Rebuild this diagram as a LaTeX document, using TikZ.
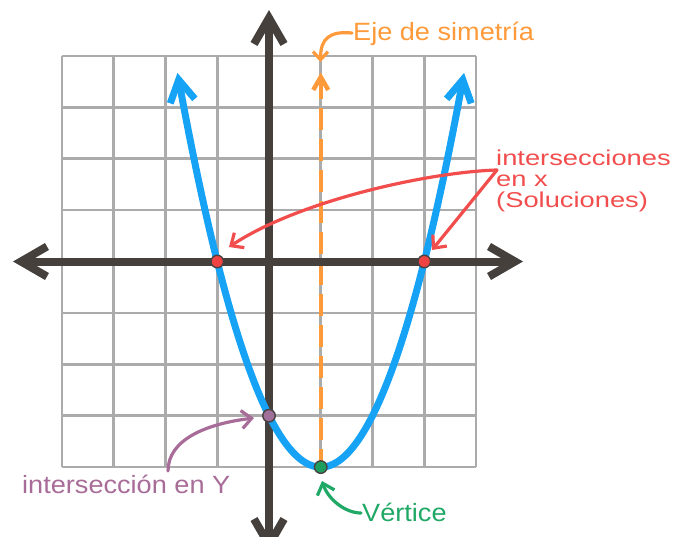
\documentclass[tikz,border=0pt]{standalone}
\usepackage{fontspec}
\setmainfont{Liberation Sans}
\usepackage{graphicx}
\usetikzlibrary{arrows.meta,calc}
\definecolor{gridgray}{HTML}{ABABAB}
\definecolor{axisdark}{HTML}{45403C}
\definecolor{parabblue}{HTML}{16A2F5}
\definecolor{symorange}{HTML}{FF9A3A}
\definecolor{solred}{HTML}{F24D4D}
\definecolor{yintpurple}{HTML}{A86C98}
\definecolor{vertgreen}{HTML}{20A866}
\definecolor{dotred}{HTML}{EF4343}
\definecolor{dotpurple}{HTML}{A0709A}
\definecolor{dotgreen}{HTML}{1E9E5E}
\definecolor{dotborder}{HTML}{4A4242}
% chevron arrowhead: #1 centre-line tip, #2 direction (canvas angle), #3 arm length, #4 half angle, #5 style
\newcommand{\chevron}[5]{\draw[#5,line join=miter,line cap=butt] ($(#1)+({#2+180-#4}:#3pt)$) -- (#1) -- ($(#1)+({#2+180+#4}:#3pt)$);}
\begin{document}
\begin{tikzpicture}[x=1pt,y=-1pt,
  gridline/.style={draw=gridgray,line width=2.7pt,line cap=square},
  axisline/.style={draw=axisdark,line width=8pt,line cap=butt},
  parab/.style={draw=parabblue,line width=7pt,line cap=butt},
  symline/.style={draw=symorange,line width=4.5pt},
  ptdot/.style={circle,draw=dotborder,line width=1.4pt,minimum size=12.5pt,inner sep=0pt},
  lbl/.style={inner sep=0pt,anchor=base west,font=\fontsize{25}{30}\selectfont},
  conn/.style={line width=3.2pt,line cap=round},
]
\useasboundingbox (0,0) rectangle (678,536);
% grid
\foreach \i in {0,...,8} {
  \draw[gridline] ({62+51.75*\i},56) -- ({62+51.75*\i},467);
  \draw[gridline] (62,{56+51.375*\i}) -- (476,{56+51.375*\i});
}
% axis of symmetry
\coordinate (symtop) at (320.75,77);
\coordinate (vtx) at (320.75,467.1);
\draw[symline,dash pattern=on 22pt off 9pt] (symtop) -- (vtx);
\chevron{symtop}{90}{15}{30}{symline}
% axes
\coordinate (ytop) at (269,18);
\coordinate (ybot) at (269,545);
\coordinate (xleft) at (21,261.5);
\coordinate (xright) at (515,261.5);
\draw[axisline] (ytop) -- (ybot);
\draw[axisline] (xleft) -- (xright);
\chevron{ytop}{90}{30}{30}{axisline}
\chevron{ybot}{270}{30}{30}{axisline}
\chevron{xleft}{180}{30}{30}{axisline}
\chevron{xright}{0}{30}{30}{axisline}
% parabola
\begin{scope}[shift={(269,261.5)},x=51.75pt,y=51.4pt]
  \draw[parab] plot[domain=-1.745:3.745,samples=150] (\x,{\x*\x-2*\x-3});
  \coordinate (ptipL) at (-1.745,3.535);
  \coordinate (ptipR) at (3.745,3.535);
  \node[ptdot,fill=dotred] (rootL) at (-1,0) {};
  \node[ptdot,fill=dotred] (rootR) at (3,0) {};
  \node[ptdot,fill=dotpurple] (yint) at (0,-3) {};
  \node[ptdot,fill=dotgreen] (vertex) at (1,-4) {};
\end{scope}
\chevron{ptipL}{100.3}{25}{30}{parab}
\chevron{ptipR}{79.7}{25}{30}{parab}
% labels
\node[lbl,text=symorange] (ejeLbl) at (353,40.7) {\scalebox{1.085}[1]{Eje de simetría}};
\node[inner sep=0pt,anchor=base west,text=solred] (xLbl) at (496,165.5)
  {\fontsize{21.5}{20.7}\selectfont\scalebox{1.27}[1]{\begin{tabular}[t]{@{}l@{}}intersecciones\\en x\\(Soluciones)\end{tabular}}};
\node[lbl,text=yintpurple] (yLbl) at (22,493.5) {\scalebox{1.085}[1]{intersección en Y}};
\node[lbl,text=vertgreen] (vLbl) at (362,521) {\scalebox{1.085}[1]{Vértice}};
% connectors
\coordinate (ejeStart) at (352,33);
\coordinate (ejeEnd) at (320.5,62);
\draw[conn,draw=symorange,-{Straight Barb[length=8pt,width=15pt]}] (ejeStart) .. controls (330,31) and (320.5,38) .. (ejeEnd);
\coordinate (xfork) at (497,170);
\coordinate (rootLtip) at (229,247);
\coordinate (rootRtip) at (432,250);
\draw[conn,draw=solred,-{Straight Barb[length=10pt,width=18pt]}] (xfork) .. controls (430,172) and (300,200) .. (rootLtip);
\draw[conn,draw=solred,-{Straight Barb[length=10pt,width=18pt]}] (xfork) -- (rootRtip);
\coordinate (yStart) at (168,471);
\coordinate (yEnd) at (254,418);
\draw[conn,draw=yintpurple,-{Straight Barb[length=10pt,width=18pt]}] (yStart) .. controls (168,440) and (205,424) .. (yEnd);
\coordinate (vStart) at (361,513);
\coordinate (vEnd) at (322,481);
\draw[conn,draw=vertgreen,-{Straight Barb[length=10pt,width=18pt]}] (vStart) .. controls (345,513) and (328,499) .. (vEnd);
\end{tikzpicture}
\end{document}
